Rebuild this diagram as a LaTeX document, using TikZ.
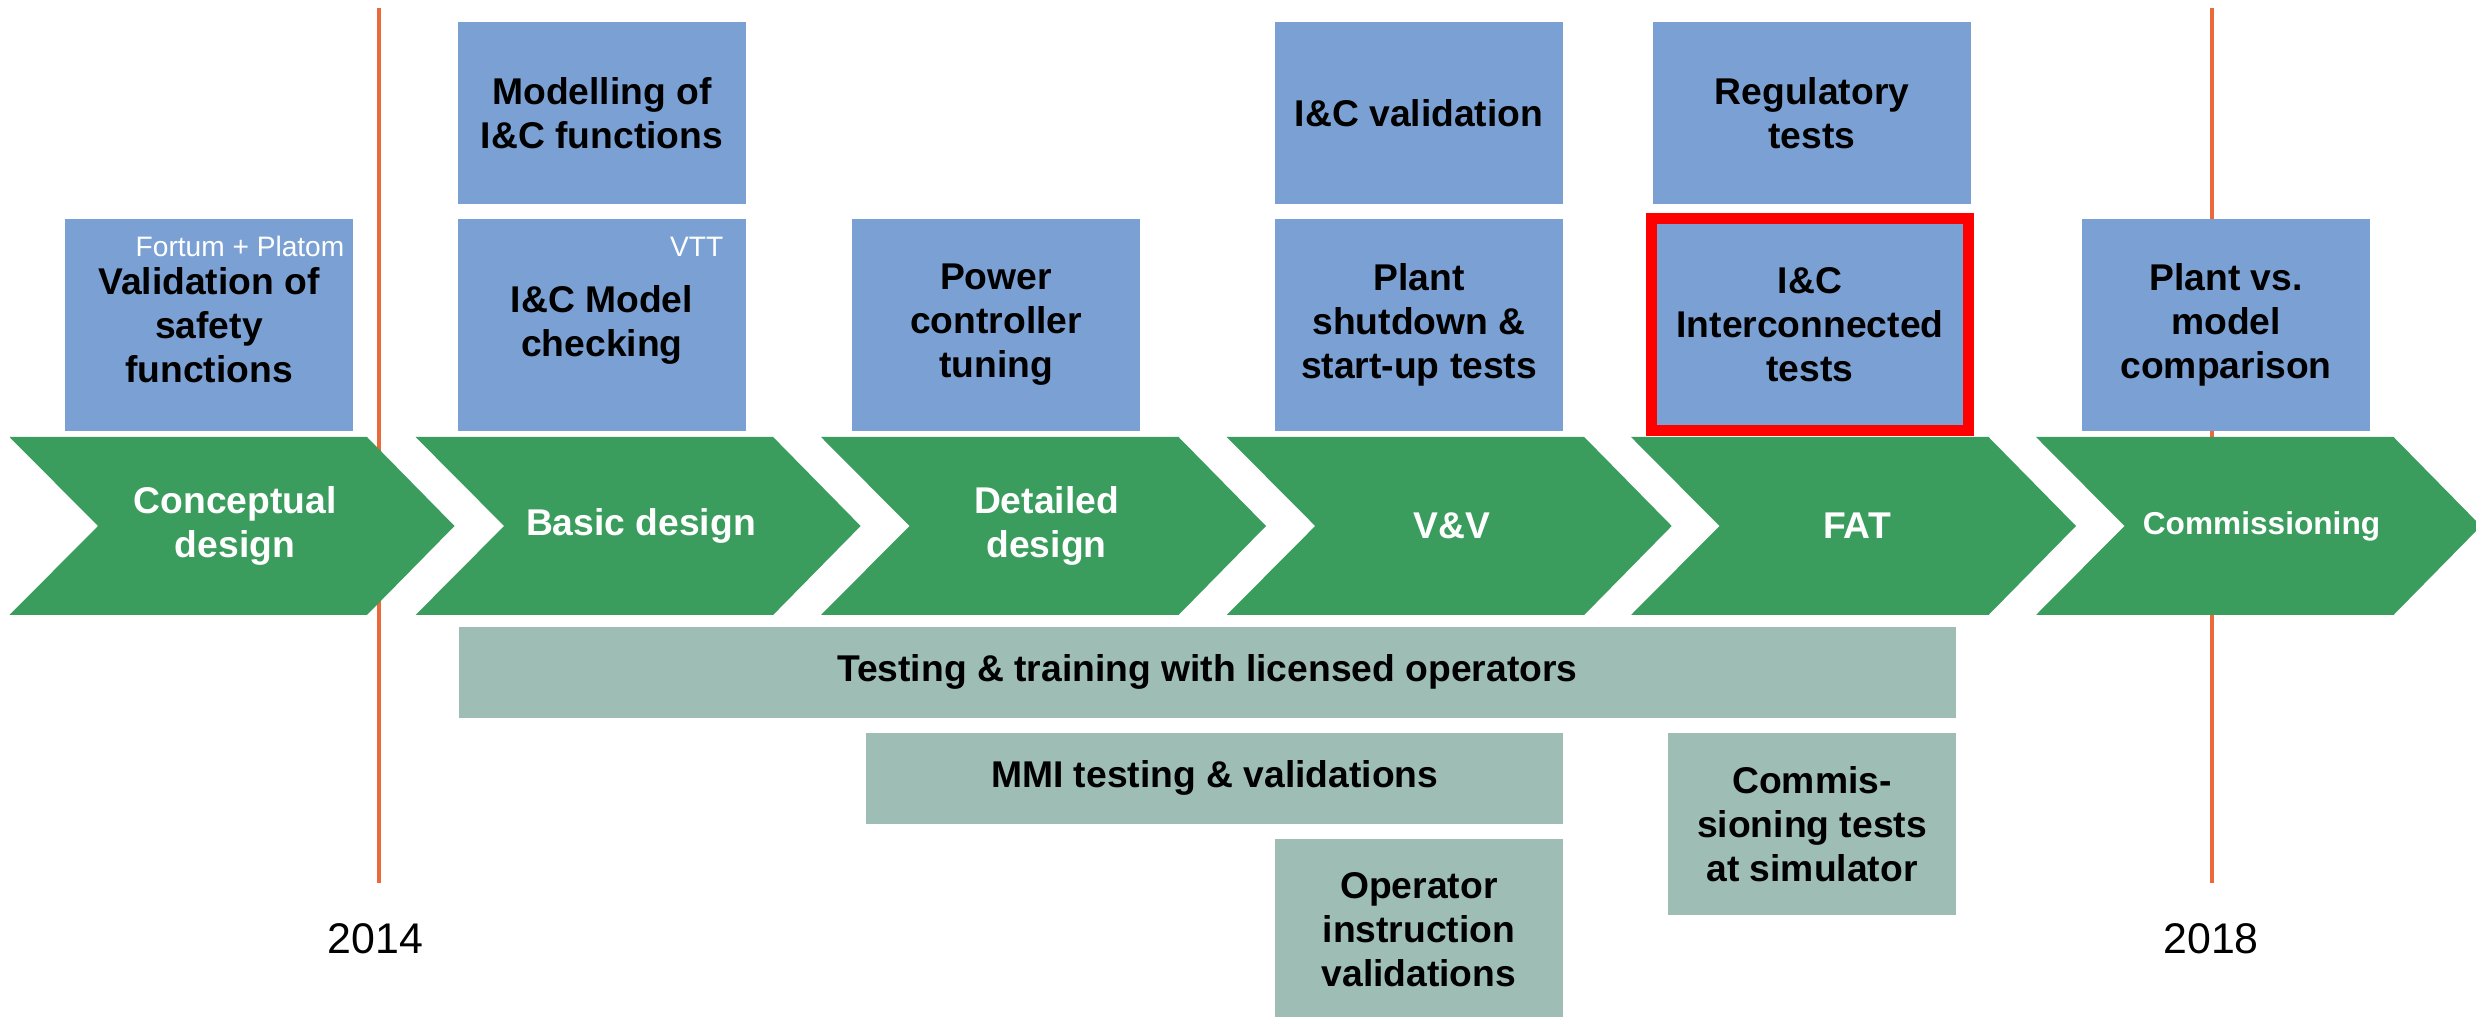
\documentclass[tikz,border=0pt]{standalone}
\usepackage{fontspec}
\setmainfont{Liberation Sans}
\usetikzlibrary{positioning}
\definecolor{phasegreen}{HTML}{3A9D5D}
\definecolor{taskblue}{HTML}{7BA1D4}
\definecolor{bargray}{HTML}{9DBDB5}
\definecolor{yearline}{HTML}{EA6A3C}
\definecolor{focusred}{HTML}{FF0000}
\tikzset{
  every picture/.style={line join=miter},
  boldtext/.style={font=\fontsize{10.6}{12.5}\selectfont\bfseries},
  phase/.style={fill=phasegreen},
  phaselabel/.style={boldtext, text=white, align=center, inner sep=0pt},
  task/.style={boldtext, fill=taskblue, align=center, inner sep=0pt, minimum width=2.88cm, minimum height=2.12cm},
  uppertask/.style={task, minimum height=1.82cm},
  bar/.style={boldtext, fill=bargray, align=center, inner sep=0pt},
  owner/.style={font=\fontsize{8}{9.6}\selectfont, text=white, anchor=base east, inner sep=0pt},
  year/.style={font=\fontsize{12.2}{14}\selectfont, inner sep=0pt},
}

\begin{document}
\begin{tikzpicture}
\useasboundingbox (0,0) rectangle (24.76,-10.17);
\draw[yearline,line width=1.1pt](3.790,-0.08)--(3.790,-8.83);
\draw[yearline,line width=1.1pt](22.120,-0.08)--(22.120,-8.83);
\fill[phase](0.095,-4.37)--(3.670,-4.37)--(4.545,-5.26)--(3.670,-6.15)--(0.095,-6.15)--(0.980,-5.26)--cycle;
\fill[phase](4.156,-4.37)--(7.731,-4.37)--(8.606,-5.26)--(7.731,-6.15)--(4.156,-6.15)--(5.041,-5.26)--cycle;
\fill[phase](8.210,-4.37)--(11.785,-4.37)--(12.660,-5.26)--(11.785,-6.15)--(8.210,-6.15)--(9.095,-5.26)--cycle;
\fill[phase](12.267,-4.37)--(15.842,-4.37)--(16.717,-5.26)--(15.842,-6.15)--(12.267,-6.15)--(13.152,-5.26)--cycle;
\fill[phase](16.310,-4.37)--(19.885,-4.37)--(20.760,-5.26)--(19.885,-6.15)--(16.310,-6.15)--(17.195,-5.26)--cycle;
\fill[phase](20.360,-4.37)--(23.935,-4.37)--(24.810,-5.26)--(23.935,-6.15)--(20.360,-6.15)--(21.245,-5.26)--cycle;
\node[phaselabel] (conceptual) at (2.350,-5.26) {Conceptual\\design};
\node[phaselabel] (basic) at (6.410,-5.26) {Basic design};
\node[phaselabel] (detailed) at (10.465,-5.26) {Detailed\\design};
\node[phaselabel] (vandv) at (14.520,-5.26) {V\&V};
\node[phaselabel] (fat) at (18.570,-5.26) {FAT};
\node[phaselabel,font=\fontsize{9}{11}\selectfont\bfseries] (commissioning) at (22.615,-5.26) {Commissioning};
\node[task] (valsafety) at (2.090,-3.25) {Validation of\\safety\\functions};
\node[owner] (fortum) at (3.450,-2.57) {Fortum + Platom};
\node[uppertask] (modelling) at (6.020,-1.13) {Modelling of\\I\&C functions};
\node[task] (icmodel) at (6.020,-3.25) {I\&C Model\\checking};
\node[owner] (vtt) at (7.240,-2.57) {VTT};
\node[task] (powerctl) at (9.960,-3.25) {Power\\controller\\tuning};
\node[uppertask] (icvalid) at (14.190,-1.13) {I\&C validation};
\node[task] (plantstart) at (14.190,-3.25) {Plant\\shutdown \&\\start-up tests};
\node[uppertask,minimum width=3.18cm] (regtests) at (18.120,-1.13) {Regulatory\\tests};
\node[task,minimum width=3.17cm,draw=focusred,line width=0.11cm] (icinter) at (18.100,-3.245) {I\&C\\Interconnected\\tests};
\node[task] (plantmodel) at (22.260,-3.25) {Plant vs.\\model\\comparison};
\node[bar,minimum width=14.975cm,minimum height=0.907cm] (training) at (12.073,-6.724) {Testing \& training with licensed operators};
\node[bar,minimum width=6.966cm,minimum height=0.907cm] (mmi) at (12.147,-7.784) {MMI testing \& validations};
\node[bar,minimum width=2.883cm,minimum height=1.817cm] (opinstr) at (14.189,-9.300) {Operator\\instruction\\validations};
\node[bar,minimum width=2.880cm,minimum height=1.817cm] (commtests) at (18.120,-8.239) {Commis-\\sioning tests\\at simulator};
\node[year] (y2014) at (3.755,-9.39) {2014};
\node[year] (y2018) at (22.110,-9.39) {2018};
\end{tikzpicture}
\end{document}
